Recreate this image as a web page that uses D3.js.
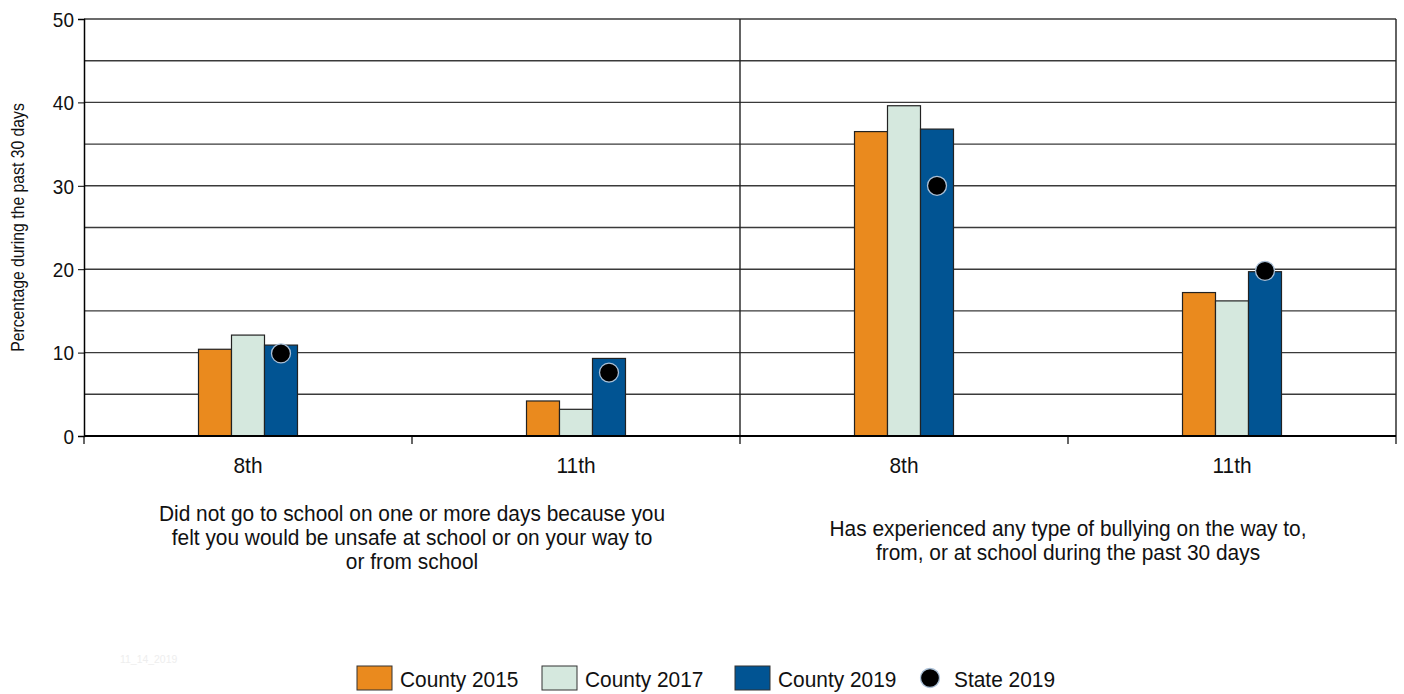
<!DOCTYPE html>
<html>
<head>
<meta charset="utf-8">
<script src="https://cdn.jsdelivr.net/npm/d3@7/dist/d3.min.js"></script>
<style>
  body { margin: 0; background: #fff; }
  svg text { font-family: "Liberation Sans", Arial, sans-serif; fill: #111; }
</style>
</head>
<body>
<div id="chart"></div>
<script>
// data
var grades = ["8th", "11th", "8th", "11th"];
var questions = [
	["Did not go to school on one or more days because you", "felt you would be unsafe at school or on your way to", "or from school"],
	["Has experienced any type of bullying on the way to,", "from, or at school during the past 30 days"]
];
var county2015 = [10.4, 4.2, 36.5, 17.2];
var county2017 = [12.1, 3.2, 39.6, 16.2];
var county2019 = [10.9, 9.3, 36.8, 19.7];
var state2019 = [9.9, 7.6, 30.0, 19.8];
var seriesNames = ["County 2015", "County 2017", "County 2019"];
var yTicks = [0, 10, 20, 30, 40, 50];

// magic numbers
var W = 1404, H = 694;
var margin = {top: 19, left: 84, right: 8, bottom: 258};
var plotW = W - margin.left - margin.right,
	plotH = H - margin.top - margin.bottom;
var colors = ["#ea8a1e", "#d5e8de", "#015493"];
var narrow = 0.95; // squeeze a touch, original face is condensed

var svg = d3.select("#chart").append("svg")
		.attr("width", W)
		.attr("height", H);

var g = svg.append("g")
		.attr("transform", "translate(" + margin.left + "," + margin.top + ")");

// place a squeezed text at x,y
function ntext(parent, x, y, size, anchor, k) {
	return parent.append("text")
		.attr("transform", "translate(" + x + "," + y + ") scale(" + (k || narrow) + ",1)")
		.attr("text-anchor", anchor || "start")
		.style("font-size", size + "px");
}

var x0 = d3.scaleBand()
		.domain(d3.range(grades.length))
		.range([0, plotW])
		.paddingInner(0);

var x1 = d3.scaleBand()
		.domain(seriesNames)
		.range([0, x0.bandwidth()])
		.paddingInner(0)
		.paddingOuter(3.47);

var y = d3.scaleLinear()
		.domain([0, 50])
		.range([plotH, 0]);

// gridlines every 5
g.append("g").selectAll("line")
	.data(d3.range(5, 51, 5))
	.enter().append("line")
		.attr("x1", 0)
		.attr("x2", plotW)
		.attr("y1", function(d) { return y(d); })
		.attr("y2", function(d) { return y(d); })
		.style("stroke", "#3a3a3a")
		.style("stroke-width", 1.4);

// divider between the two questions and right border
g.append("line")
	.attr("x1", x0(2)).attr("x2", x0(2))
	.attr("y1", 0).attr("y2", plotH)
	.style("stroke", "#222").style("stroke-width", 1.4);
g.append("line")
	.attr("x1", plotW).attr("x2", plotW)
	.attr("y1", 0).attr("y2", plotH)
	.style("stroke", "#222").style("stroke-width", 1.4);

// bars
var series = [county2015, county2017, county2019];
var cat = g.append("g").selectAll("g")
	.data(d3.range(grades.length))
	.enter().append("g")
		.attr("transform", function(i) { return "translate(" + x0(i) + ",0)"; });

cat.selectAll("rect")
	.data(function(i) { return series.map(function(s, k) { return {k: k, v: s[i]}; }); })
	.enter().append("rect")
		.attr("x", function(d) { return x1(seriesNames[d.k]); })
		.attr("width", x1.bandwidth())
		.attr("y", function(d) { return y(d.v); })
		.attr("height", function(d) { return plotH - y(d.v); })
		.style("fill", function(d) { return colors[d.k]; })
		.style("stroke", "#222")
		.style("stroke-width", 1.2);

// state dots on the 2019 bar
g.append("g").selectAll("circle")
	.data(state2019)
	.enter().append("circle")
		.attr("cx", function(d, i) { return x0(i) + x1("County 2019") + x1.bandwidth() / 2; })
		.attr("cy", function(d) { return y(d); })
		.attr("r", 9.5)
		.style("fill", "#000")
		.style("stroke", "#a9bfd6")
		.style("stroke-width", 1.3);

// y axis
var yAxis = d3.axisLeft(y).tickValues(yTicks).tickSize(6).tickPadding(4);
var ya = g.append("g").call(yAxis);
ya.select(".domain").style("stroke", "#000").style("stroke-width", 1.5);
ya.selectAll(".tick line").style("stroke", "#000");
ya.selectAll(".tick text")
	.attr("x", null)
	.attr("dy", "0.36em")
	.attr("transform", "translate(-10,0) scale(" + narrow + ",1)")
	.style("font-size", "20px")
	.style("font-family", "'Liberation Sans', Arial, sans-serif")
	.style("fill", "#111");

// x axis line + ticks at category boundaries
g.append("line")
	.attr("x1", 0).attr("x2", plotW)
	.attr("y1", plotH).attr("y2", plotH)
	.style("stroke", "#000").style("stroke-width", 2);
g.append("g").selectAll("line")
	.data(d3.range(grades.length + 1))
	.enter().append("line")
		.attr("x1", function(i) { return i * x0.step(); })
		.attr("x2", function(i) { return i * x0.step(); })
		.attr("y1", plotH)
		.attr("y2", plotH + 8)
		.style("stroke", "#000").style("stroke-width", 1.2);

grades.forEach(function(d, i) {
	ntext(g, x0(i) + x0.bandwidth() / 2, plotH + 37, 22, "middle").text(d);
});

// question labels
questions.forEach(function(lines, q) {
	var cx = x0(q * 2 + 1);
	var top = lines.length === 3 ? plotH + 85 : plotH + 100;
	ntext(g, cx, top, 22, "middle")
		.selectAll("tspan")
		.data(lines)
		.enter().append("tspan")
			.attr("x", 0)
			.attr("y", function(d, i) { return i * 24; })
			.text(function(d) { return d; });
});

// y label
ntext(svg, 24, margin.top + plotH / 2, 19, "middle", 0.83)
	.attr("transform", "translate(24," + (margin.top + plotH / 2) + ") rotate(-90) scale(0.83,1)")
	.text("Percentage during the past 30 days");

// faint stamp
ntext(svg, 120, 663, 11).style("fill", "#eeeeee").text("11_14_2019");

// legend
var legend = [
	{name: "County 2015", x: 357, type: "rect", c: colors[0]},
	{name: "County 2017", x: 542, type: "rect", c: colors[1]},
	{name: "County 2019", x: 735, type: "rect", c: colors[2]},
	{name: "State 2019", x: 920, type: "dot", c: "#000"}
];
legend.forEach(function(d) {
	var lg = svg.append("g").attr("transform", "translate(" + d.x + ",666)");
	if (d.type === "rect") {
		lg.append("rect")
			.attr("width", 35).attr("height", 24)
			.style("fill", d.c)
			.style("stroke", "#333").style("stroke-width", 1);
	} else {
		lg.append("circle")
			.attr("cx", 10).attr("cy", 12).attr("r", 9.5)
			.style("fill", "#000").style("stroke", "#a9bfd6").style("stroke-width", 1.3);
	}
	ntext(lg, d.type === "rect" ? 43 : 34, 21, 22).text(d.name);
});
</script>
</body>
</html>
